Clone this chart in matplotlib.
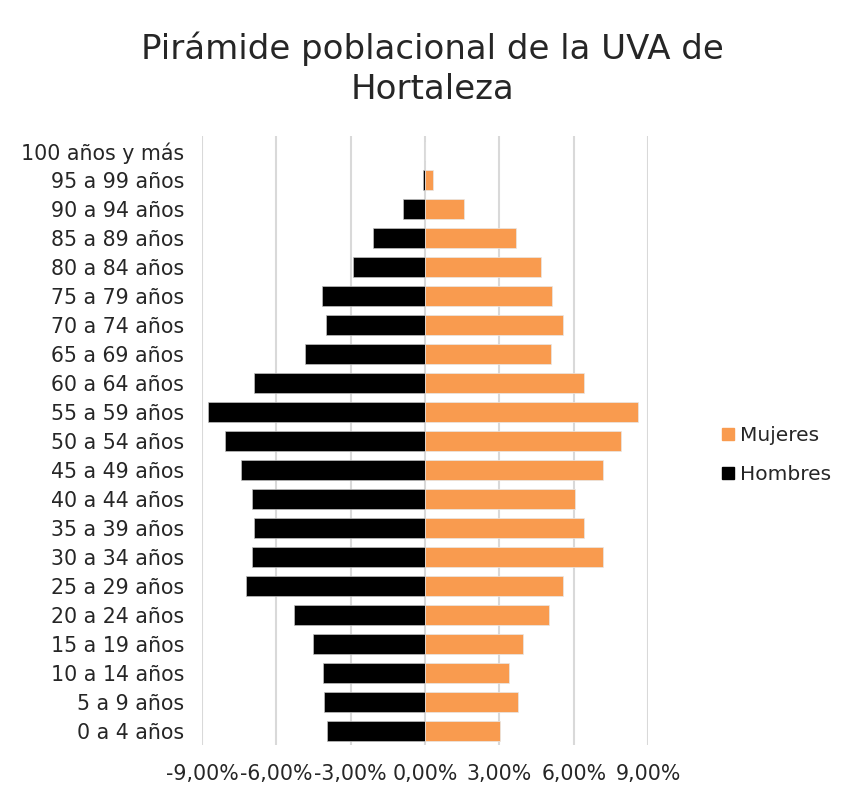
import matplotlib
matplotlib.use('Agg')
import matplotlib.pyplot as plt
from matplotlib.ticker import FuncFormatter
from matplotlib.lines import Line2D

# age groups, bottom to top
grupos = ["0 a 4 años", "5 a 9 años", "10 a 14 años", "15 a 19 años", "20 a 24 años",
          "25 a 29 años", "30 a 34 años", "35 a 39 años", "40 a 44 años", "45 a 49 años",
          "50 a 54 años", "55 a 59 años", "60 a 64 años", "65 a 69 años", "70 a 74 años",
          "75 a 79 años", "80 a 84 años", "85 a 89 años", "90 a 94 años", "95 a 99 años",
          "100 años y más"]
# percentages of total population
hombres = [-3.94, -4.07, -4.11, -4.53, -5.27, -7.21, -6.99, -6.89, -6.99, -7.44,
           -8.09, -8.74, -6.89, -4.85, -3.98, -4.15, -2.91, -2.08, -0.88, -0.10, 0.0]
mujeres = [3.02, 3.75, 3.37, 3.94, 4.99, 5.55, 7.17, 6.43, 6.06, 7.17,
           7.90, 8.60, 6.43, 5.08, 5.55, 5.14, 4.68, 3.69, 1.58, 0.32, 0.0]
xticks = [-9, -6, -3, 0, 3, 6, 9]

ORANGE = "#F99B4F"
GRID = "#D9D9D9"
TXT = "#262626"
plt.rcParams['font.family'] = ['DejaVu Sans']

fig = plt.figure(figsize=(8.48, 7.98), dpi=100)
ax = fig.add_axes([0.2382, 0.0658, 0.5260, 0.7632])

y = range(len(grupos))
ax.barh(y, hombres, height=0.66, color="black", edgecolor="#BFBFBF", linewidth=0.5, zorder=3)
ax.barh(y, mujeres, height=0.66, color=ORANGE, edgecolor="#E8E8E8", linewidth=0.5, zorder=3)

ax.set_xlim(-9, 9)
ax.set_ylim(-0.5, len(grupos) - 0.5)
ax.set_xticks(xticks)
ax.xaxis.set_major_formatter(FuncFormatter(lambda v, p: f"{v:.2f}%".replace(".", ",")))
ax.set_yticks(list(y))
ax.set_yticklabels(grupos)
ax.grid(axis="x", color=GRID, linewidth=1.5, zorder=0)
ax.tick_params(axis="both", length=0, labelsize=14.8, labelcolor=TXT)
ax.tick_params(axis="y", pad=13)
ax.tick_params(axis="x", pad=13)
for s in ax.spines.values():
    s.set_visible(False)

fig.text(0.51, 0.914, "Pirámide poblacional de la UVA de\nHortaleza", ha="center", va="center",
         fontsize=24.5, color=TXT, linespacing=1.27)

handles = [Line2D([], [], marker="s", linestyle="", color=ORANGE, markersize=9),
           Line2D([], [], marker="s", linestyle="", color="black", markersize=9)]
fig.legend(handles, ["Mujeres", "Hombres"], loc="center left", bbox_to_anchor=(0.825, 0.43),
           frameon=False, fontsize=14.5, handletextpad=0.1, labelspacing=1.0,
           labelcolor=TXT, handlelength=1.0)

fig.savefig("out.png", dpi=100)
